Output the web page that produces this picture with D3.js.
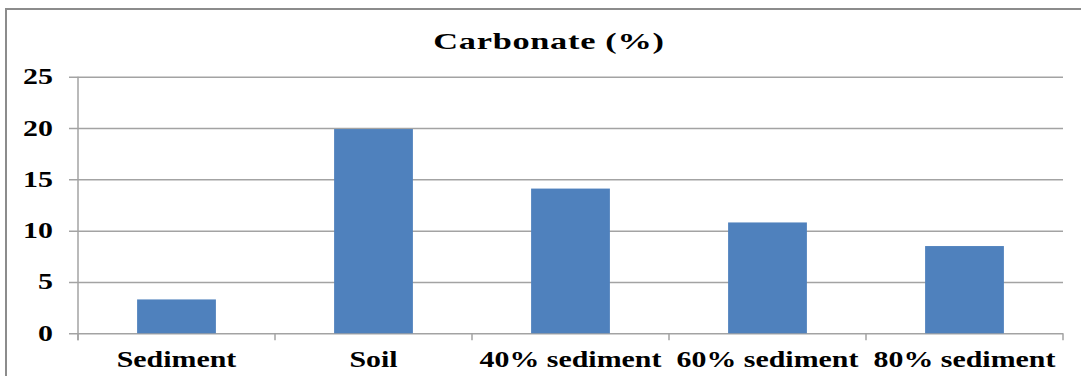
<!DOCTYPE html>
<html>
<head>
<meta charset="utf-8">
<script src="https://cdn.jsdelivr.net/npm/d3@7"></script>
<style>
  html, body { margin: 0; padding: 0; background: #fff; }
  svg { display: block; }
  text { font-family: "Liberation Serif", serif; font-weight: bold; fill: #000; }
</style>
</head>
<body>
<svg id="chart" width="1081" height="376"></svg>
<script>
// Carbonate content per sample type
const categories = ["Sediment", "Soil", "40% sediment", "60% sediment", "80% sediment"];
const carbonate = [3.3, 19.9, 14.1, 10.8, 8.5];
const yTicks = [0, 5, 10, 15, 20, 25];
const chartTitle = "Carbonate (%)";

const svg = d3.select("#chart");
const plot = { left: 78, right: 1063, top: 76.7, bottom: 333.3 };
const stretch = 1.3;         // wide letterforms
const fontSize = 23;
const gridColor = "#a3a3a3";

// outer frame
svg.append("rect")
  .attr("x", 6).attr("y", 9)
  .attr("width", 1100).attr("height", 400)
  .attr("fill", "none").attr("stroke", "#8c8c8c").attr("stroke-width", 2);

const x = d3.scaleBand().domain(categories).range([plot.left, plot.right]).padding(0);
const y = d3.scaleLinear().domain([0, 25]).range([plot.bottom, plot.top]);

// horizontal gridlines with left tick marks
const yAxis = d3.axisLeft(y).tickValues(yTicks).tickSize(-(plot.right - plot.left)).tickFormat("");
const gy = svg.append("g").attr("transform", `translate(${plot.left},0)`).call(yAxis);
gy.select(".domain").remove();
gy.selectAll(".tick line").attr("stroke", gridColor).attr("stroke-width", 1.5).attr("x1", -9);

// y tick labels
svg.append("g").selectAll("text").data(yTicks).join("text")
  .attr("transform", d => `translate(53,${y(d) + 7.5}) scale(${stretch},1)`)
  .attr("text-anchor", "end")
  .attr("font-size", fontSize)
  .text(d => d);

// bars
const barFrac = 0.4;
svg.append("g").selectAll("rect").data(categories).join("rect")
  .attr("x", (d) => x(d) + x.bandwidth() * (1 - barFrac) / 2)
  .attr("width", x.bandwidth() * barFrac)
  .attr("y", (d, i) => y(carbonate[i]))
  .attr("height", (d, i) => y(0) - y(carbonate[i]))
  .attr("fill", "#4f81bd");

// vertical axis line
svg.append("line")
  .attr("x1", plot.left).attr("x2", plot.left)
  .attr("y1", plot.top).attr("y2", plot.bottom + 7)
  .attr("stroke", gridColor).attr("stroke-width", 1.5);

// category axis with boundary ticks
const xAxis = d3.axisBottom(x).tickSize(0).tickFormat("");
const gx = svg.append("g").attr("transform", `translate(0,${plot.bottom})`).call(xAxis);
gx.select(".domain").remove();
gx.selectAll(".tick").remove();
const bounds = categories.map(c => x(c)).concat([plot.right]);
gx.selectAll("line.bound").data(bounds).join("line")
  .attr("class", "bound")
  .attr("x1", d => d).attr("x2", d => d)
  .attr("y1", 0).attr("y2", 7)
  .attr("stroke", gridColor).attr("stroke-width", 1.5);

// category labels
svg.append("g").selectAll("text").data(categories).join("text")
  .attr("transform", d => `translate(${x(d) + x.bandwidth() / 2},366.5) scale(${stretch},1)`)
  .attr("text-anchor", "middle")
  .attr("font-size", fontSize)
  .text(d => d);

// title
svg.append("text")
  .attr("transform", `translate(549,48.5) scale(1.43,1)`)
  .attr("text-anchor", "middle")
  .attr("font-size", 24)
  .attr("letter-spacing", 0.5)
  .text(chartTitle);
</script>
</body>
</html>
